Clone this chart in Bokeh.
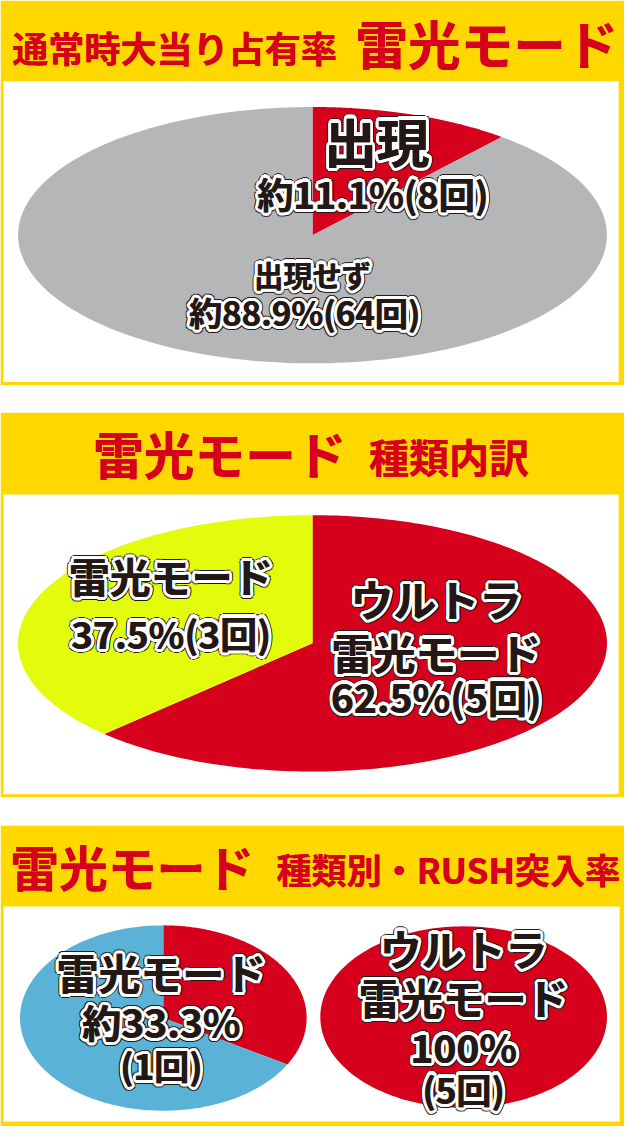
import numpy as np
from bokeh.plotting import figure
from bokeh.models import Range1d
from bokeh.core.properties import value
from bokeh.embed import file_html
from bokeh.resources import INLINE

# ---------------- data ----------------
p1_title_small = "通常時大当り占有率"
p1_title_big = "雷光モード"
p1_names = ["出現", "出現せず"]
p1_counts = [8, 64]
p1_labels = ["約11.1%(8回)", "約88.9%(64回)"]

p2_title_big = "雷光モード"
p2_title_small = "種類内訳"
p2_names = ["ウルトラ\n雷光モード", "雷光モード"]
p2_counts = [5, 3]
p2_labels = ["62.5%(5回)", "37.5%(3回)"]

p3_title_big = "雷光モード"
p3_title_small = "種類別・RUSH突入率"
p3_names = ["雷光モード", "ウルトラ\n雷光モード"]
p3_rush = [1, 5]
p3_total = [3, 5]
p3_pct = ["約33.3%", "100%"]
p3_cnt = ["(1回)", "(5回)"]

# ---------------- style ----------------
RED = "#D6001C"
YELLOW = "#FFD800"
GRAY = "#B5B6B7"
LIME = "#E3FC0C"
BLUE = "#5AB3D6"
INK = "#231815"
FONT = value("Noto Sans CJK JP")

W, H = 624, 1126
REF_W, REF_H = 640, 1142
SX = W / REF_W

p = figure(width=W, height=H, output_backend="svg", toolbar_location=None,
           x_range=Range1d(0, REF_W), y_range=Range1d(REF_H, 0),
           min_border=0)
p.axis.visible = False
p.grid.visible = False
p.outline_line_color = None
p.background_fill_color = "white"
p.border_fill_color = "white"


def panel(y0, y_head, y_in_bot, y1, x_in_r=634):
    p.quad(left=0, right=REF_W, top=y0, bottom=y1, fill_color=YELLOW, line_color=None)
    p.quad(left=3, right=x_in_r, top=y_head, bottom=y_in_bot, fill_color="white", line_color=None)


def slices(counts, colors, cx, cy, a, b):
    total = float(sum(counts))
    start = 0.0
    for c, col in zip(counts, colors):
        f0, f1 = start / total, (start + c) / total
        start += c
        if c == 0:
            continue
        th = np.linspace(2 * np.pi * f0, 2 * np.pi * f1, 200)
        xs = cx + a * np.sin(th)
        ys = cy - b * np.cos(th)
        if f1 - f0 < 1.0:
            xs = np.concatenate([[cx], xs])
            ys = np.concatenate([[cy], ys])
        p.patch(xs, ys, fill_color=col, line_color=None)


ANG = np.linspace(0, 2 * np.pi, 16, endpoint=False)


def txt(x, y, s, size, color=INK, align="center", outline=True):
    kw = dict(text_font=FONT, text_font_style="bold",
              text_font_size=f"{size * SX:.1f}px",
              text_align=align, text_baseline="middle")
    if outline:
        n = len(ANG)
        for r, col in ((4.3, INK), (3.3, "white")):
            p.text(x=[x] * n, y=[y] * n, text=[s] * n,
                   x_offset=list(r * np.cos(ANG)), y_offset=list(r * np.sin(ANG)),
                   text_color=col, **kw)
        # slight heaviness for the glyph itself
        p.text(x=[x] * 2, y=[y] * 2, text=[s] * 2, x_offset=[-0.4, 0.4], y_offset=[0, 0],
               text_color=color, **kw)
    else:
        p.text(x=[x] * 2, y=[y] * 2, text=[s] * 2, x_offset=[-0.3, 0.3], y_offset=[0, 0],
               text_color=color, **kw)


# ---- panel 1 ----
panel(0, 82, 387, 390)
txt(12, 47, p1_title_small, 37, RED, "left", False)
txt(364, 42, p1_title_big, 54, RED, "left", False)
slices(p1_counts, [RED, GRAY], 320, 238, 302, 130)
txt(386, 141, p1_names[0], 54)
txt(382, 195, p1_labels[0], 37)
txt(320, 277, p1_names[1], 30)
txt(312, 316, p1_labels[1], 34)

# ---- panel 2 ----
panel(418, 501, 805, 808)
txt(95, 459, p2_title_big, 52, RED, "left", False)
txt(378, 462, p2_title_small, 41, RED, "left", False)
slices(p2_counts, [RED, LIME], 320, 652, 302, 130)
n0 = p2_names[0].split("\n")
txt(447, 606, n0[0], 44)
txt(447, 660, n0[1], 43)
txt(447, 705, p2_labels[0], 40)
txt(175, 583, p2_names[1], 42)
txt(175, 641, p2_labels[1], 38)

# ---- panel 3 ----
panel(837, 919, 1137, REF_H, 635)
txt(10, 877, p3_title_big, 50, RED, "left", False)
txt(283, 880, p3_title_small, 36, RED, "left", False)
slices([p3_rush[0], p3_total[0] - p3_rush[0]], [RED, BLUE], 167, 1032, 147, 94)
slices([p3_rush[1], p3_total[1] - p3_rush[1]], [RED, BLUE], 475, 1031, 147, 92)
txt(165, 985, p3_names[0], 43)
txt(165, 1035, p3_pct[0], 40)
txt(165, 1079, p3_cnt[0], 36)
n1 = p3_names[1].split("\n")
txt(475, 960, n1[0], 43)
txt(475, 1010, n1[1], 43)
txt(475, 1060, p3_pct[1], 40)
txt(475, 1103, p3_cnt[1], 36)

open("out.html", "w").write(file_html(p, INLINE))
